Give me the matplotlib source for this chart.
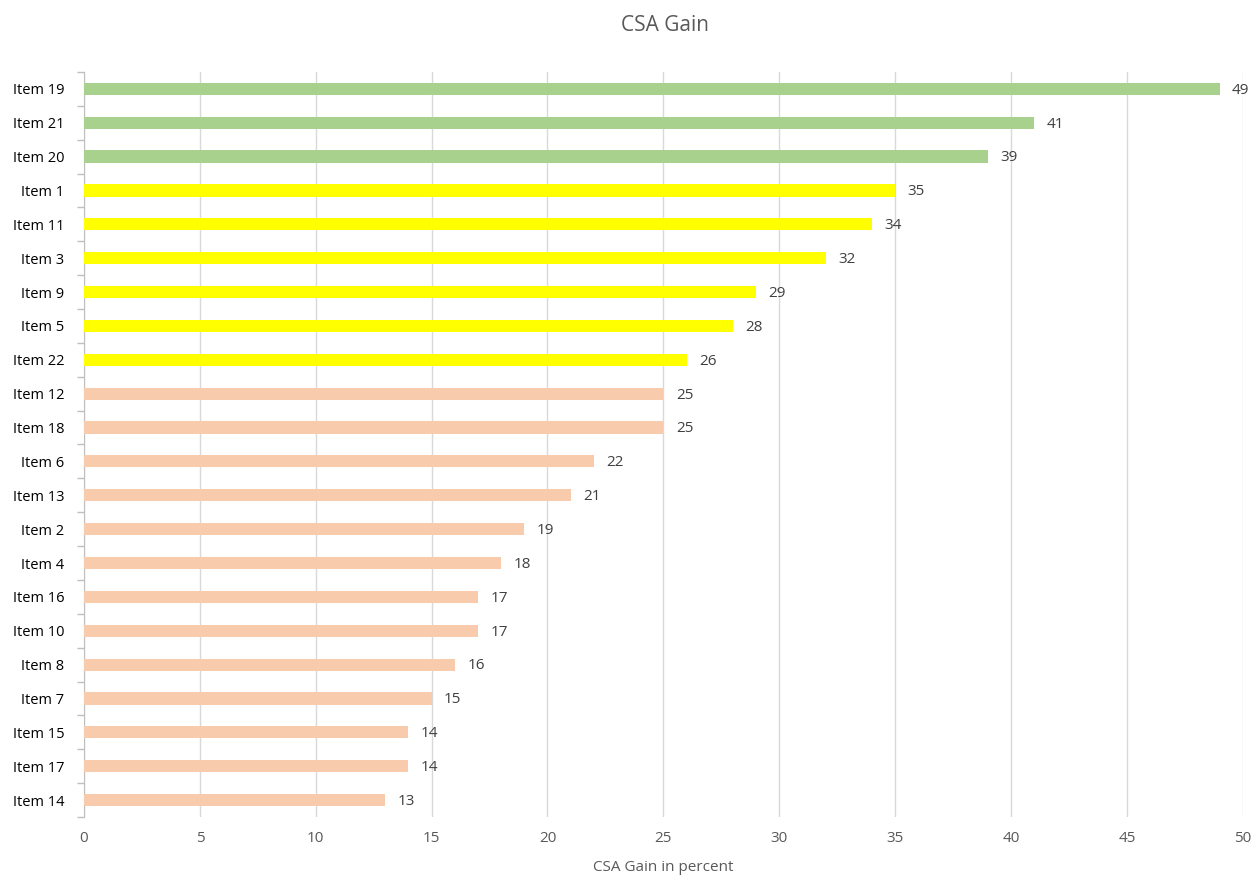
import matplotlib.pyplot as plt

items = ["Item 19", "Item 21", "Item 20", "Item 1", "Item 11", "Item 3", "Item 9",
         "Item 5", "Item 22", "Item 12", "Item 18", "Item 6", "Item 13", "Item 2",
         "Item 4", "Item 16", "Item 10", "Item 8", "Item 7", "Item 15", "Item 17",
         "Item 14"]
gain = [49, 41, 39, 35, 34, 32, 29, 28, 26, 25, 25, 22, 21, 19, 18, 17, 17, 16,
        15, 14, 14, 13]
# colour groups: high / mid / low
groups = ["high"] * 3 + ["mid"] * 6 + ["low"] * 13
group_colors = {"high": "#A9D18E", "mid": "#FFFF00", "low": "#F8CBAD"}

plt.rcParams['font.family'] = ['Open Sans', 'DejaVu Sans']

fig = plt.figure(figsize=(12.54, 8.77), dpi=100)
ax = fig.add_axes([0.067, 0.0684, 0.924, 0.8496])

ypos = list(range(len(items)))
colors = [group_colors[g] for g in groups]
ax.barh(ypos, gain, height=0.36, color=colors, zorder=3)

for y, v in zip(ypos, gain):
    ax.annotate(str(v), (v, y), xytext=(9, -1), textcoords="offset points",
                va="center", ha="left", fontsize=11, color="#404040")

ax.set_ylim(len(items) - 0.5, -0.5)
ax.set_xlim(0, 50)
ax.set_xticks(range(0, 51, 5))
ax.set_yticks(ypos)
ax.set_yticklabels(items, fontsize=10.5, color="#000000")
ax.tick_params(axis="y", length=0, pad=14)
ax.tick_params(axis="x", length=0, pad=10, labelsize=11, labelcolor="#595959")

# Excel-style minor ticks between categories on the y axis
ax.set_yticks([y - 0.5 for y in range(len(items) + 1)], minor=True)
ax.tick_params(axis="y", which="minor", length=5, color="#BFBFBF", width=1)

ax.grid(axis="x", color="#D9D9D9", linewidth=1, zorder=0)
for s in ["top", "right", "bottom"]:
    ax.spines[s].set_visible(False)
ax.spines["left"].set_color("#BFBFBF")

fig.text(0.53, 0.971, "CSA Gain", ha="center", va="center", fontsize=15,
         color="#595959")
fig.text(0.529, 0.002, "CSA Gain in percent", ha="center", va="bottom",
         fontsize=11, color="#595959")

fig.savefig("out.png", dpi=100)
